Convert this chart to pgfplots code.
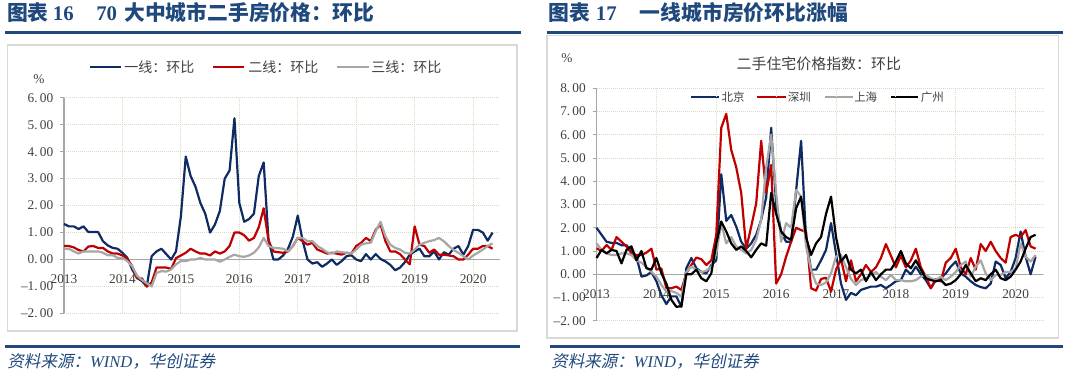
\documentclass[border=0pt]{standalone}
\usepackage{pgfplots}
\pgfplotsset{compat=1.18}
\usepackage{pgfplotstable}
\usepackage{fontspec}
\setmainfont{Liberation Serif}
\newfontfamily\cjk{Noto Sans CJK SC}
\newfontfamily\cjkit{Noto Sans CJK SC}[FakeSlant=0.2]
\definecolor{hdr}{HTML}{1F497D}
\definecolor{frm}{HTML}{D9D9D9}
\definecolor{gridc}{RGB}{217,217,196}
\definecolor{axc}{HTML}{A6A6A6}
\definecolor{txt}{HTML}{404040}
\definecolor{s1}{HTML}{0F2B63}
\definecolor{s2}{HTML}{C00000}
\definecolor{s3}{HTML}{A6A6A6}
\definecolor{s4}{HTML}{000000}

\pgfplotstableread{
m a b c
0 1.32 0.50 0.40
1 1.23 0.50 0.40
2 1.23 0.45 0.30
3 1.13 0.35 0.22
4 1.23 0.30 0.30
5 1.02 0.48 0.30
6 1.02 0.50 0.30
7 1.02 0.43 0.30
8 0.68 0.43 0.25
9 0.52 0.30 0.16
10 0.43 0.22 0.16
11 0.40 0.22 0.06
12 0.25 0.15 0.06
13 0.06 0.02 -0.06
14 -0.37 -0.25 -0.25
15 -0.68 -0.70 -0.60
16 -0.80 -0.70 -0.76
17 -1.00 -1.00 -0.88
18 0.12 -0.85 -1.00
19 0.30 -0.30 -0.50
20 0.40 -0.30 -0.43
21 0.20 -0.30 -0.45
22 0.00 -0.35 -0.37
23 0.30 0.05 -0.18
24 1.60 0.15 -0.06
25 3.82 0.25 -0.06
26 3.10 0.40 0.00
27 2.70 0.30 0.00
28 2.10 0.22 0.06
29 1.70 0.22 0.00
30 1.00 0.15 0.00
31 1.30 0.30 0.00
32 1.80 0.22 -0.08
33 3.00 0.30 0.00
34 3.30 0.50 0.10
35 5.24 1.00 0.18
36 2.10 1.00 0.12
37 1.40 0.90 0.10
38 1.50 0.70 0.15
39 1.70 0.80 0.25
40 3.10 1.20 0.45
41 3.60 1.90 0.80
42 0.70 0.70 0.50
43 0.00 0.30 0.43
44 0.00 0.27 0.42
45 0.15 0.25 0.40
46 0.40 0.30 0.30
47 0.85 0.50 0.50
48 1.63 0.80 0.80
49 0.70 0.68 0.80
50 0.00 0.55 0.68
51 -0.15 0.62 0.68
52 -0.10 0.37 0.50
53 -0.27 0.30 0.40
54 -0.15 0.22 0.27
55 0.00 0.25 0.22
56 -0.20 0.22 0.30
57 -0.06 0.18 0.27
58 0.12 0.25 0.25
59 0.16 0.22 0.22
60 0.00 0.50 0.37
61 -0.06 0.62 0.55
62 0.20 0.80 0.60
63 0.00 0.68 0.62
64 0.20 1.10 1.05
65 0.02 1.30 1.40
66 -0.07 0.68 0.86
67 -0.20 0.30 0.55
68 -0.40 0.30 0.43
69 -0.30 0.20 0.37
70 -0.10 0.00 0.25
71 0.18 -0.18 0.22
72 0.30 1.23 0.37
73 0.40 0.55 0.55
74 0.12 0.50 0.62
75 0.12 0.25 0.68
76 0.30 0.37 0.72
77 0.00 0.18 0.80
78 0.27 0.18 0.68
79 0.18 0.15 0.50
80 0.40 0.12 0.35
81 0.50 0.00 0.25
82 0.18 0.00 0.12
83 0.50 0.18 0.00
84 1.10 0.40 0.15
85 1.10 0.40 0.25
86 1.00 0.50 0.37
87 0.70 0.50 0.50
88 1.00 0.40 0.60
}\ldata

\pgfplotstableread{
m bj sz sh gz
0 2.00 1.12 1.33 0.70
1 1.70 1.00 1.05 1.05
2 1.40 1.26 0.90 0.90
3 1.35 1.05 0.83 1.05
4 1.35 1.60 0.83 1.00
5 1.25 1.40 0.90 0.47
6 1.25 1.20 0.90 1.05
7 1.00 0.90 0.83 1.20
8 0.75 0.83 0.60 0.60
9 -0.10 0.83 0.50 1.00
10 -0.05 0.93 0.30 0.26
11 0.10 1.10 0.10 0.20
12 -0.30 0.20 -0.10 0.70
13 -0.90 0.25 -0.46 0.04
14 -1.28 -0.60 -0.75 -0.40
15 -0.95 -0.60 -0.72 -1.10
16 -0.95 -0.53 -0.80 -1.40
17 -1.40 -0.67 -0.96 -1.37
18 0.26 0.04 0.10 0.00
19 0.70 0.40 0.33 0.00
20 0.26 0.72 0.20 0.20
21 0.10 0.65 0.10 -0.17
22 0.04 0.40 0.15 -0.30
23 0.40 0.60 0.33 0.04
24 0.60 1.70 0.90 1.33
25 4.30 6.30 2.20 2.27
26 2.30 6.90 1.33 1.84
27 2.55 5.35 1.60 1.33
28 2.05 4.60 1.20 1.05
29 1.40 3.50 1.05 1.20
30 1.10 1.10 0.90 1.00
31 1.33 2.05 1.05 0.73
32 1.70 3.05 1.48 1.05
33 2.35 5.74 2.34 1.33
34 3.30 3.50 4.60 1.23
35 6.30 4.70 6.00 3.50
36 3.00 -0.40 3.50 2.60
37 1.80 0.00 1.40 1.84
38 1.40 0.76 2.20 1.60
39 1.40 1.40 2.00 1.48
40 3.60 2.00 3.63 2.84
41 5.74 1.90 3.34 3.34
42 1.50 1.83 1.20 1.60
43 0.20 -0.60 0.20 0.83
44 0.20 -0.70 -0.40 1.33
45 0.60 -0.20 -0.46 1.60
46 1.05 -0.15 -0.35 2.60
47 2.20 -0.75 0.04 3.34
48 0.90 0.20 0.76 1.60
49 -0.40 0.65 0.83 0.55
50 -1.10 -0.30 0.30 0.83
51 -0.80 0.60 -0.20 0.20
52 -0.90 -0.30 -0.46 0.04
53 -0.67 0.00 -0.25 0.20
54 -0.60 0.40 -0.17 -0.30
55 -0.53 0.10 -0.03 0.10
56 -0.53 0.30 0.10 -0.25
57 -0.46 0.70 -0.10 0.00
58 -0.60 1.30 -0.25 0.20
59 -0.46 0.80 -0.03 0.20
60 -0.30 0.30 -0.25 0.55
61 -0.25 0.80 -0.25 1.00
62 0.20 0.30 -0.30 0.47
63 0.00 0.60 -0.30 0.26
64 0.33 1.10 -0.25 0.60
65 0.00 0.30 -0.10 0.20
66 -0.25 -0.10 -0.03 -0.17
67 -0.60 -0.60 -0.17 -0.25
68 -0.25 -0.20 -0.25 -0.30
69 -0.17 -0.30 -0.10 -0.25
70 0.04 0.50 -0.25 -0.46
71 0.33 0.70 -0.10 -0.40
72 0.55 1.10 0.10 -0.25
73 0.04 0.30 0.40 0.00
74 -0.10 0.00 0.55 0.40
75 -0.30 0.70 -0.10 0.04
76 -0.46 0.20 0.33 -0.30
77 -0.55 1.30 0.60 -0.17
78 -0.60 1.00 0.04 -0.25
79 -0.40 1.40 -0.25 0.00
80 0.55 1.00 -0.03 0.20
81 0.40 0.70 -0.03 -0.17
82 -0.17 0.50 0.10 -0.25
83 0.10 1.60 0.10 -0.10
84 0.70 1.70 0.25 0.20
85 1.84 1.60 1.33 0.55
86 0.76 1.90 0.76 1.10
87 0.00 1.20 0.55 1.60
88 0.76 1.10 0.83 1.70
}\rdata

\pgfplotsset{myax/.style={
  scale only axis, anchor=south west,
  axis x line=middle, axis y line=left,
  axis line style={-, draw=axc, line width=0.9pt},
  xmin=0, xmax=89.5, enlargelimits=false,
  xtick={0,12,24,36,48,60,72,84},
  xticklabels={2013,2014,2015,2016,2017,2018,2019,2020},
  hide obscured x ticks=false, hide obscured y ticks=false,
  grid=major,
  major grid style={draw=gridc, line width=0.75pt, dash pattern=on 0.75pt off 0.75pt},
  tick align=outside, major tick length=3pt,
  xtick style={draw=none}, ytick style={draw=axc, line width=0.75pt},
  tick label style={font=\fontsize{10}{12}\selectfont, text=txt},
  xticklabel style={yshift=-5pt},
  yticklabel style={xshift=-1.5pt},
  clip=false,
}}

\begin{document}
\begin{tikzpicture}
\begin{scope}[x=0.75pt,y=0.75pt]
\path[use as bounding box] (0,0) rectangle (1067,375);
% frames
\draw[frm, line width=1.1pt] (7.5,44) rectangle (517,330);
\draw[frm, line width=1.1pt] (546.8,37) rectangle (1058.6,339.5);
% header lines
\draw[hdr, line width=1.8pt] (5,342.4) -- (520.5,342.4);
\draw[hdr, line width=1.8pt] (547.4,342.4) -- (1062.6,342.4);
% footer lines
\draw[hdr, line width=2pt] (5,28.5) -- (520,28.5);
\draw[hdr, line width=2pt] (550,28.5) -- (1062.6,28.5);
% headers
\node[anchor=base west, inner sep=0, text=hdr, font=\cjk\bfseries\fontsize{15.6}{18}\selectfont] at (6.8,354.6) {图表};
\node[anchor=base west, inner sep=0, text=hdr, font=\bfseries\fontsize{15.6}{18}\selectfont] at (52.7,354.6) {16};
\node[anchor=base west, inner sep=0, text=hdr, font=\bfseries\fontsize{15.6}{18}\selectfont] at (96,354.6) {70};
\node[anchor=base west, inner sep=0, text=hdr, font=\cjk\bfseries\fontsize{15.6}{18}\selectfont] at (124,354.6) {大中城市二手房价格：环比};
\node[anchor=base west, inner sep=0, text=hdr, font=\cjk\bfseries\fontsize{15.6}{18}\selectfont] at (548.4,354.6) {图表};
\node[anchor=base west, inner sep=0, text=hdr, font=\bfseries\fontsize{15.6}{18}\selectfont] at (595.7,354.6) {17};
\node[anchor=base west, inner sep=0, text=hdr, font=\cjk\bfseries\fontsize{15.6}{18}\selectfont] at (639.7,354.6) {一线城市房价环比涨幅};
% footers
\node[anchor=base west, inner sep=0, text=hdr, font=\fontsize{12.4}{14}\selectfont] at (7.2,8) {{\cjkit 资料来源：}\textit{WIND}{\cjkit ，华创证券}};
\node[anchor=base west, inner sep=0, text=hdr, font=\fontsize{12.4}{14}\selectfont] at (551,8) {{\cjkit 资料来源：}\textit{WIND}{\cjkit ，华创证券}};
% percent signs and title
\node[text=txt, inner sep=0, font=\fontsize{10}{12}\selectfont] at (39,296) {\%};
\node[text=txt, inner sep=0, font=\fontsize{10}{12}\selectfont] at (567,316.4) {\%};
\node[text=txt, inner sep=0, font=\cjk\fontsize{11.2}{13}\selectfont] at (818.8,311.4) {二手住宅价格指数：环比};
% left legend
\draw[s1, line width=1.65pt] (90,307.8) -- (120.6,307.8);
\node[anchor=west, inner sep=0, text=txt, font=\cjk\fontsize{10.5}{12}\selectfont] at (124,307.8) {一线：环比};
\draw[s2, line width=1.65pt] (213,307.8) -- (244,307.8);
\node[anchor=west, inner sep=0, text=txt, font=\cjk\fontsize{10.5}{12}\selectfont] at (248,307.8) {二线：环比};
\draw[s3, line width=1.65pt] (337,307.8) -- (369,307.8);
\node[anchor=west, inner sep=0, text=txt, font=\cjk\fontsize{10.5}{12}\selectfont] at (371,307.8) {三线：环比};
% right legend
\draw[s1, line width=1.65pt] (691,277.6) -- (719,277.6);
\node[anchor=west, inner sep=0, text=txt, font=\cjk\fontsize{8.6}{10}\selectfont] at (721.4,277.6) {北京};
\draw[s2, line width=1.65pt] (757,277.6) -- (785.6,277.6);
\node[anchor=west, inner sep=0, text=txt, font=\cjk\fontsize{8.6}{10}\selectfont] at (787.6,277.6) {深圳};
\draw[s3, line width=1.65pt] (824.8,277.6) -- (852.5,277.6);
\node[anchor=west, inner sep=0, text=txt, font=\cjk\fontsize{8.6}{10}\selectfont] at (854,277.6) {上海};
\draw[s4, line width=1.65pt] (891,277.6) -- (918,277.6);
\node[anchor=west, inner sep=0, text=txt, font=\cjk\fontsize{8.6}{10}\selectfont] at (920.7,277.6) {广州};
\end{scope}

\begin{axis}[myax, at={(48pt,46.2pt)}, width=326.9pt, height=161.7pt,
  ymin=-2, ymax=6, ytick={-2,-1,0,1,2,3,4,5,6},
  yticklabels={{--2.\,00},{--1.\,00},{0.\,00},{1.\,00},{2.\,00},{3.\,00},{4.\,00},{5.\,00},{6.\,00}}]
\addplot[s1, line width=1.65pt, line join=round, no marks] table[x=m,y=a] {\ldata};
\addplot[s2, line width=1.65pt, line join=round, no marks] table[x=m,y=b] {\ldata};
\addplot[s3, line width=1.65pt, line join=round, no marks] table[x=m,y=c] {\ldata};
\end{axis}

\begin{axis}[myax, at={(447.4pt,40.65pt)}, width=334.9pt, height=174.4pt,
  ymin=-2, ymax=8, ytick={-2,-1,0,1,2,3,4,5,6,7,8},
  yticklabels={{--2.\,00},{--1.\,00},{0.\,00},{1.\,00},{2.\,00},{3.\,00},{4.\,00},{5.\,00},{6.\,00},{7.\,00},{8.\,00}}]
\addplot[s1, line width=1.65pt, line join=round, no marks] table[x=m,y=bj] {\rdata};
\addplot[s2, line width=1.65pt, line join=round, no marks] table[x=m,y=sz] {\rdata};
\addplot[s3, line width=1.65pt, line join=round, no marks] table[x=m,y=sh] {\rdata};
\addplot[s4, line width=1.65pt, line join=round, no marks] table[x=m,y=gz] {\rdata};
\end{axis}
\end{tikzpicture}
\end{document}
